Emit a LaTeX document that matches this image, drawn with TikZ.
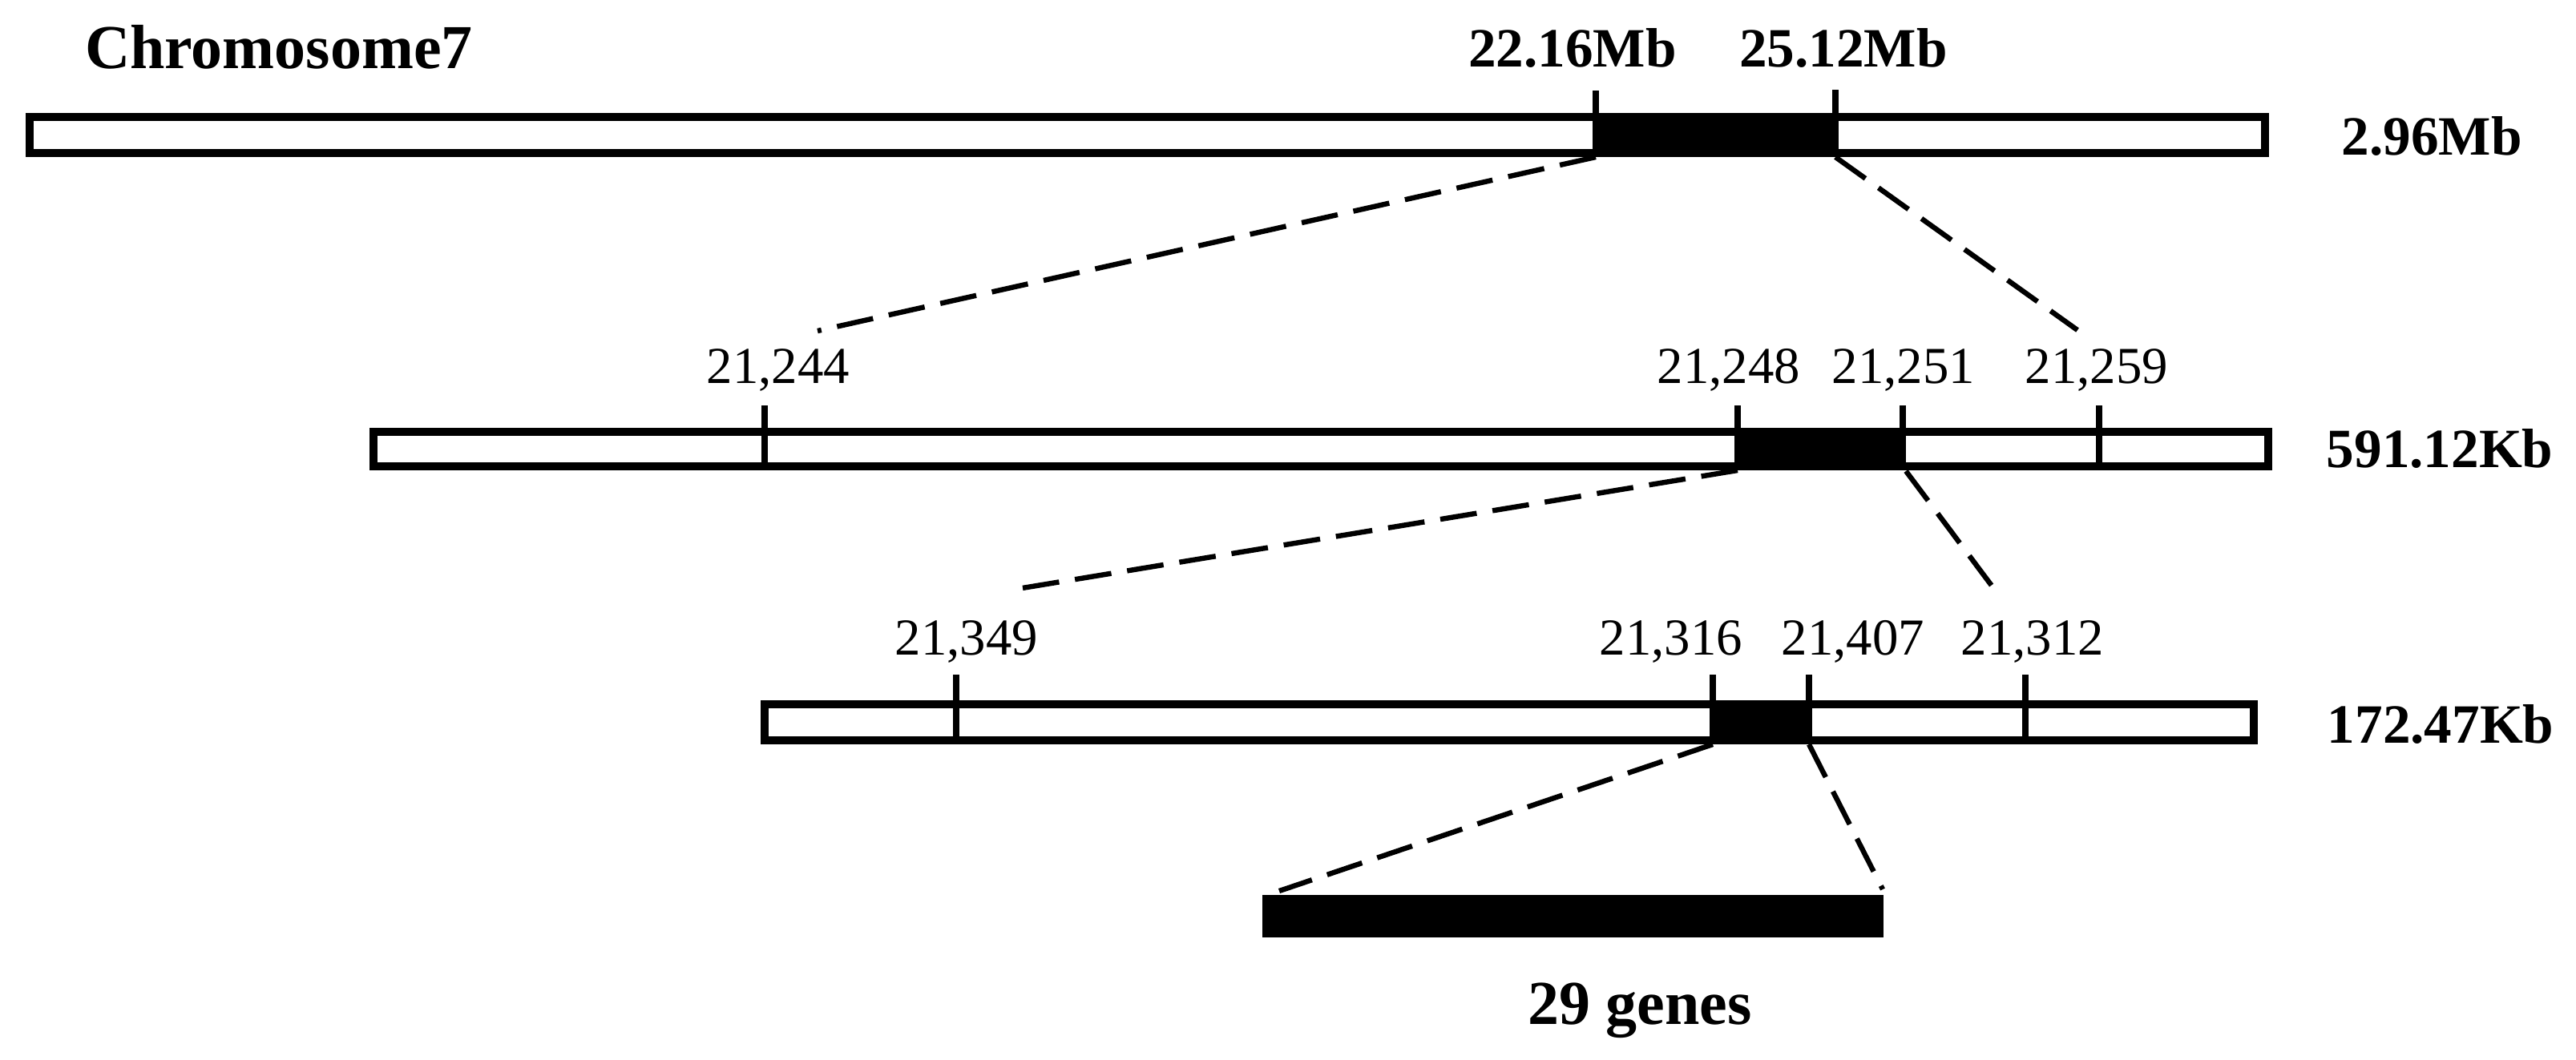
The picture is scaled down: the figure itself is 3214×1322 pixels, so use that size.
\documentclass[tikz,border=0pt]{standalone}
\usepackage{fontspec}
\setmainfont{Liberation Serif}
\begin{document}
\begin{tikzpicture}[x=0.25pt,y=-0.25pt,
  barframe/.style={line width=2.4pt, draw=black, fill=white},
  blk/.style={fill=black},
  tickln/.style={line width=2pt},
  conn/.style={line width=1.6pt, dash pattern=on 11.5pt off 5pt},
  big/.style={font=\fontsize{19.5}{22}\selectfont\bfseries, inner sep=0pt, anchor=base},
  mb/.style={font=\fontsize{17.3}{20}\selectfont\bfseries, inner sep=0pt, anchor=base},
  num/.style={font=\fontsize{16.2}{19}\selectfont, inner sep=0pt, anchor=base}]
\useasboundingbox (0,0) rectangle (3214,1322);

% bar 1
\draw[barframe] (37,146) rectangle (2826,191);
\fill[blk] (1991,141) rectangle (2290,196);
\draw[tickln] (1991,113) -- (1991,191);
\draw[tickln] (2290,112) -- (2290,191);

% bar 2
\draw[barframe] (466,539) rectangle (2830,582);
\fill[blk] (2168,534) rectangle (2374,587);
\foreach \t in {954,2168,2374,2619} \draw[tickln] (\t,506) -- (\t,582);

% bar 3
\draw[barframe] (954,879) rectangle (2812,924);
\fill[blk] (2137,874) rectangle (2257,929);
\foreach \t in {1193,2137,2257,2527} \draw[tickln] (\t,842) -- (\t,924);

% gene bar
\fill[blk] (1575,1117) rectangle (2350,1170);

% connector ends
\coordinate (b1l) at (1991,196);
\coordinate (b1r) at (2290,196);
\coordinate (t2l) at (1020,413);
\coordinate (t2r) at (2592,412);
\coordinate (b2l) at (2168,587);
\coordinate (b2r) at (2378,588);
\coordinate (t3l) at (1257,737);
\coordinate (t3r) at (2491,739);
\coordinate (b3l) at (2137,929);
\coordinate (b3r) at (2257,929);
\coordinate (gl) at (1596,1112);
\coordinate (gr) at (2349,1110);

\draw[conn] (b1l) -- (t2l);
\draw[conn] (b1r) -- (t2r);
\draw[conn] (b2l) -- (t3l);
\draw[conn] (b2r) -- (t3r);
\draw[conn] (b3l) -- (gl);
\draw[conn] (b3r) -- (gr);

% labels
\node[big] (chr) at (348,85) {Chromosome7};
\node[mb] (m1) at (1962,83) {22.16Mb};
\node[mb] (m2) at (2300,83) {25.12Mb};
\node[mb, anchor=base west] (s1) at (2921,193) {2.96Mb};
\node[mb, anchor=base west] (s2) at (2902,583) {591.12Kb};
\node[mb, anchor=base west] (s3) at (2903,927) {172.47Kb};

\node[num] (n1) at (971,478) {21,244};
\node[num] (n2) at (2157,478) {21,248};
\node[num] (n3) at (2375,478) {21,251};
\node[num] (n4) at (2616,478) {21,259};
\node[num] (n5) at (1206,817) {21,349};
\node[num] (n6) at (2085,817) {21,316};
\node[num] (n7) at (2312,817) {21,407};
\node[num] (n8) at (2536,817) {21,312};

\node[big] (genes) at (2046,1278) {29 genes};
\end{tikzpicture}
\end{document}
